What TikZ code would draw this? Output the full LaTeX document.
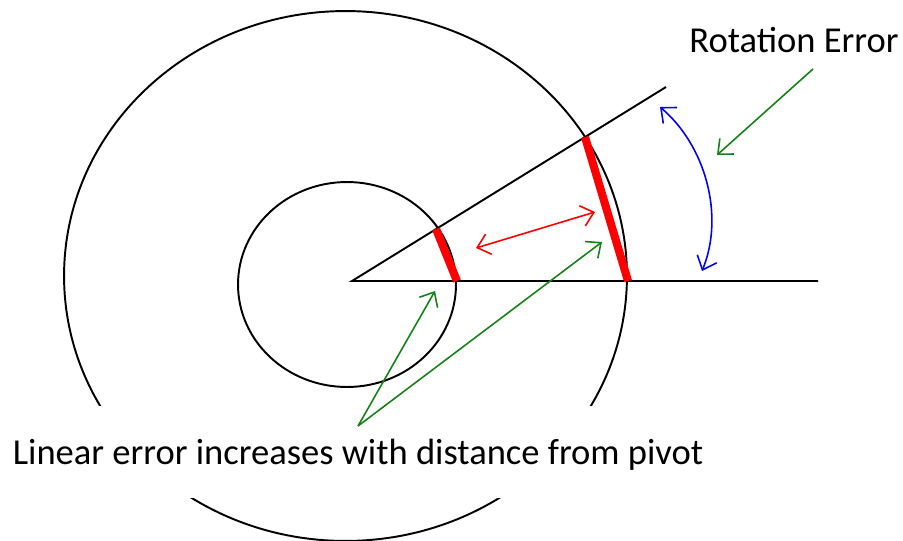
\documentclass[tikz,border=0pt]{standalone}
\usepackage{fontspec}
\setmainfont{Carlito}
\usetikzlibrary{arrows.meta}
\definecolor{errgreen}{RGB}{20,130,20}
\begin{document}
\begin{tikzpicture}[x=0.02cm,y=-0.02cm,every node/.style={font=\fontsize{20.8}{25}\selectfont},>={Straight Barb[length=2.4mm,width=4.2mm]}]
\useasboundingbox (0,0) rectangle (903,541);
\draw[line width=1.1pt] (345.5,276) ellipse [x radius=5.63cm,y radius=5.3cm];
\draw[line width=1.1pt] (347,284.5) ellipse [x radius=2.18cm,y radius=2.05cm];
\coordinate (p) at (352,281);
\coordinate (h) at (818,281);
\coordinate (a) at (666,87);
\draw[line width=1.1pt] (h) -- (p) -- (a);
\coordinate (s1) at (436,229);
\coordinate (s2) at (457,281);
\coordinate (b1) at (585,137);
\coordinate (b2) at (628,281);
\draw[red,line width=4.6pt] (s1) -- (s2);
\draw[red,line width=4.6pt] (b1) -- (b2);
\coordinate (d1) at (476,248);
\coordinate (d2) at (595,212);
\draw[<->,red,line width=0.9pt] (d1) -- (d2);
\coordinate (r1) at (660,107);
\coordinate (r2) at (702,271);
\draw[<->,blue,line width=0.9pt] (r1) .. controls (705,145) and (725,215) .. (r2);
\node[anchor=base] (rot) at (794,52) {Rotation Error};
\node[anchor=base,fill=white,inner sep=0pt,text height=1.16cm,text depth=0.68cm] (lin) at (358,464) {Linear error increases with distance from pivot};
\coordinate (re) at (813,69);
\coordinate (reT) at (717,155);
\draw[->,errgreen,line width=0.9pt] (re) -- (reT);
\coordinate (fork) at (358,426);
\coordinate (t1) at (435,291);
\coordinate (t2) at (602,242);
\draw[->,errgreen,line width=0.9pt] (fork) -- (t1);
\draw[->,errgreen,line width=0.9pt] (fork) -- (t2);
\end{tikzpicture}
\end{document}
